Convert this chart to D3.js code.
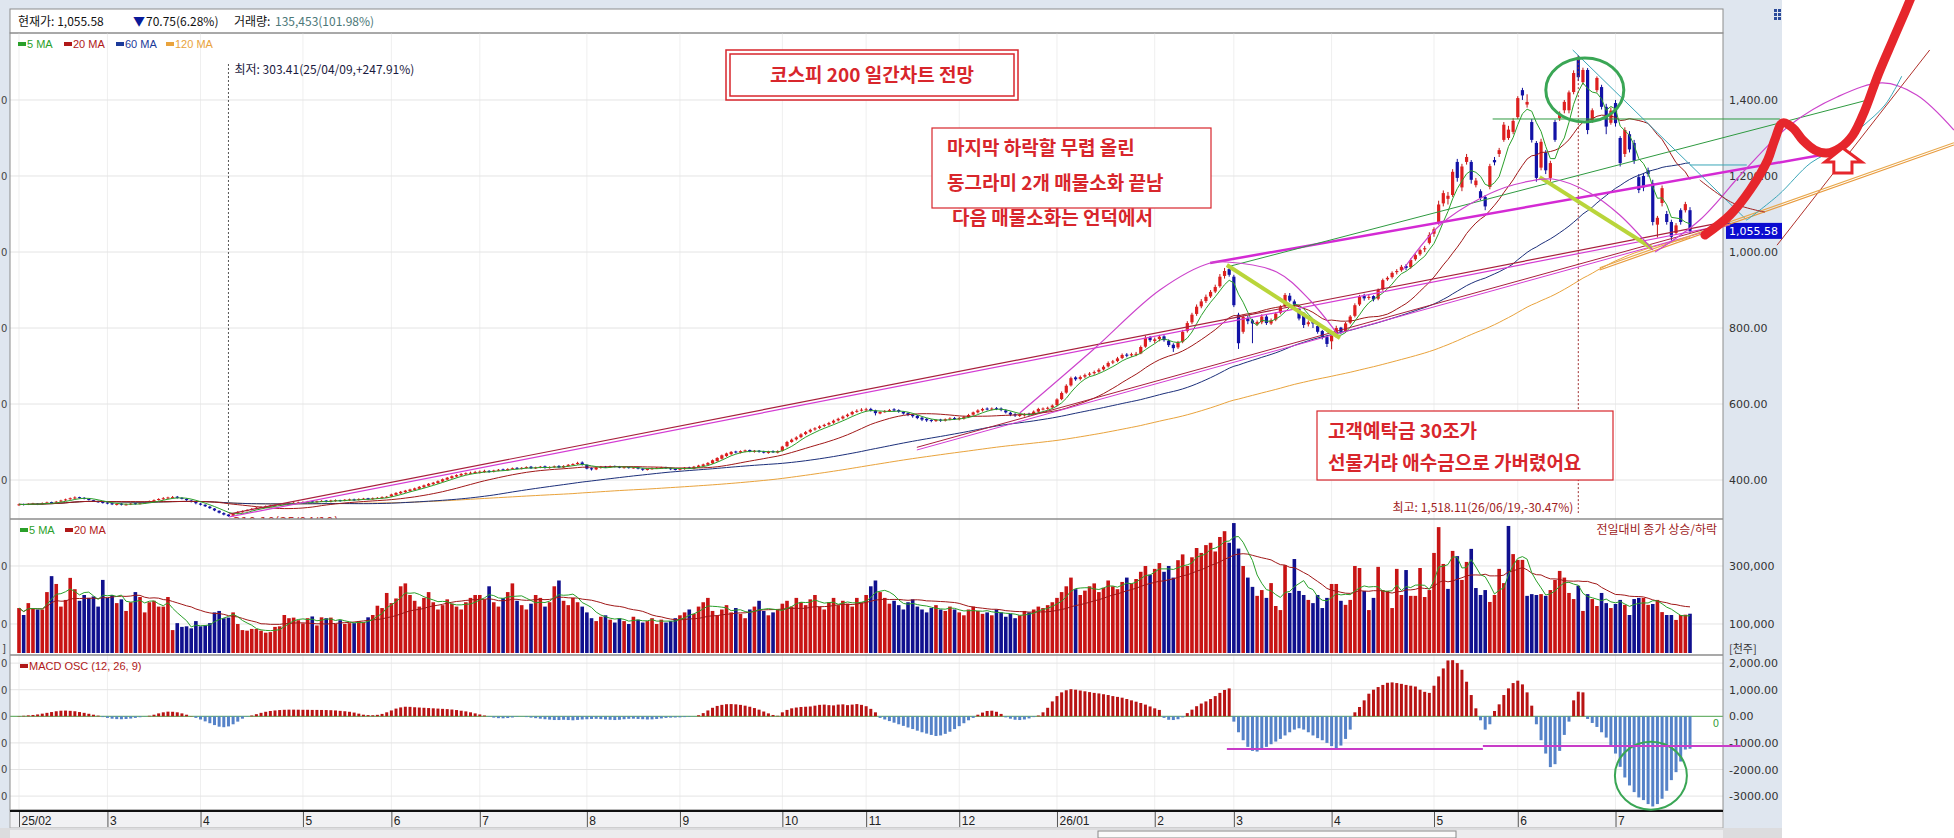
<!DOCTYPE html>
<html>
<head>
<meta charset="utf-8">
<script src="https://cdn.jsdelivr.net/npm/d3@7"></script>
<style>
  body { margin: 0; background: #fff; }
  svg { display: block; font-family: "DejaVu Sans", sans-serif; }
  .kr { font-family: "Noto Sans CJK KR", sans-serif; }
  .ax text { font-family: "DejaVu Sans", sans-serif; font-size: 11px; fill: #333; }
</style>
</head>
<body>
<div id="chart"></div>
<script>
// ---------- data ----------
var monthLabels = ["25/02","3","4","5","6","7","8","9","10","11","12","26/01","2","3","4","5","6","7"];
var monthStarts = [0,19,39,61,80,99,122,142,164,182,202,223,244,261,282,304,322,343];

var closes = [
  336,335,337,338,336,339,341,340,343,346,349,352,354,353,351,348,345,342,340,
  338,336,337,335,336,338,337,339,341,344,347,350,352,354,355,353,351,347,343,339,
  335,331,326,320,314,309,305,311,316,318,321,324,327,329,331,333,334,336,337,339,340,341,
  342,343,341,344,345,343,346,347,345,348,349,347,350,351,349,352,353,355,356,
  362,366,369,372,375,378,382,386,390,393,397,402,406,410,413,416,418,419,421,
  422,424,421,425,427,426,429,431,430,432,434,431,433,435,432,434,436,433,437,440,442,445,441,
  430,428,433,435,434,436,435,433,434,432,433,430,427,429,431,432,433,431,429,428,
  430,432,431,435,438,441,445,452,458,465,470,474,473,476,478,475,477,474,472,475,473,476,
  488,500,506,512,520,526,532,536,541,545,550,556,561,567,572,579,582,585,
  586,582,576,579,581,584,583,580,575,571,568,563,559,557,556,558,557,560,562,561,
  563,566,571,578,583,587,586,588,587,584,578,572,570,571,573,572,580,587,588,590,596,
  612,629,648,668,665,671,676,680,684,690,698,708,712,720,729,727,731,732,750,774,768,
  770,777,768,755,747,762,790,813,835,856,870,882,895,908,935,950,940,
  860,760,829,818,812,816,830,813,820,838,855,887,872,862,825,808,815,812,790,777,758,
  780,800,790,812,830,860,882,878,882,875,900,926,932,945,950,961,958,979,992,1005,1010,1045,
  1060,1125,1155,1148,1211,1195,1225,1250,1190,1188,1142,1120,1226,1236,1268,1335,1322,1345,
  1405,1412,1395,1295,1195,1290,1215,1234,1295,1362,1395,1420,1471,1460,1479,1321,1373,1458,1382,1330,1372,
  1339,1234,1321,1270,1240,1163,1170,1205,1079,1090,1168,1079,1040,1070,1079,1126,1055.58
];
var opens = [
  334,337,335,337,338,337,339,342,341,344,347,350,352,355,353,350,347,344,342,
  341,339,335,338,335,336,339,337,339,342,345,348,350,352,353,356,353,350,346,342,
  338,335,330,325,319,313,309,306,312,315,319,322,325,328,330,331,333,335,336,338,339,339,
  340,342,344,342,344,346,343,345,347,346,347,349,348,350,352,350,352,353,355,
  357,361,365,368,371,374,377,381,385,389,392,396,401,405,409,412,415,417,418,
  420,421,424,422,425,428,426,429,432,430,432,435,431,433,436,432,434,437,433,437,440,442,446,
  440,431,428,432,435,434,437,435,432,434,432,434,430,427,429,431,432,434,431,429,
  427,429,433,430,434,437,440,444,450,456,463,468,475,472,475,479,474,477,475,471,476,472,
  477,489,500,507,513,521,527,533,537,542,546,551,557,562,568,573,580,583,
  584,587,583,575,580,582,586,584,579,576,572,569,564,561,558,555,559,556,559,563,
  560,562,566,572,578,583,588,586,589,588,583,577,573,569,570,574,573,580,586,588,591,
  597,613,630,649,670,666,672,677,681,685,691,699,709,713,721,730,728,731,733,751,776,
  766,771,778,766,756,749,764,792,815,837,857,871,883,896,910,937,955,
  935,835,790,826,820,810,815,830,812,822,840,857,885,870,850,840,810,816,805,792,776,
  765,782,801,792,814,832,862,884,879,884,877,902,928,934,947,952,963,960,981,994,1007,1024,
  1048,1079,1128,1140,1150,1237,1170,1237,1237,1176,1160,1145,1171,1242,1258,1295,1300,1316,
  1355,1426,1388,1342,1287,1222,1262,1195,1342,1352,1373,1373,1421,1510,1447,1479,1347,1426,1434,1382,1340,
  1392,1300,1258,1310,1287,1197,1200,1215,1181,1072,1129,1100,1079,1050,1110,1110,1110
];
var highs = [
  338,338,339,340,339,341,343,343,345,348,351,354,357,356,355,351,348,346,344,
  343,341,339,340,338,340,341,341,343,346,349,352,355,356,358,358,355,352,348,344,
  340,336,332,326,320,315,310,313,318,320,323,326,329,331,333,335,336,338,339,341,342,343,
  344,345,345,346,347,347,348,349,348,350,351,351,352,353,353,354,355,357,358,
  364,368,371,374,377,380,384,388,392,395,399,404,408,412,415,418,420,422,424,
  425,427,426,427,429,430,431,433,434,434,436,437,435,437,438,436,438,439,439,442,444,448,449,
  441,433,435,437,437,438,438,437,436,435,435,435,431,431,433,434,435,435,433,431,
  432,434,435,437,440,443,447,454,460,467,472,476,477,478,480,480,479,479,477,477,478,478,
  490,503,509,515,523,529,535,539,544,548,553,559,564,570,575,582,586,589,
  590,590,585,581,584,587,589,586,581,578,574,571,566,563,560,560,561,562,565,566,
  566,569,574,580,586,590,591,591,592,591,586,580,576,574,576,577,583,590,591,593,599,
  615,633,652,672,673,675,680,684,688,694,702,712,716,724,733,734,735,737,754,780,779,
  775,782,781,770,760,766,795,818,840,862,876,888,900,914,942,958,965,
  940,840,835,832,824,820,836,834,825,842,860,892,892,875,852,842,820,820,808,795,780,
  792,806,803,816,834,865,887,890,888,886,904,930,936,949,955,966,968,983,996,1009,1016,1052,
  1065,1135,1162,1158,1218,1245,1232,1258,1242,1195,1165,1150,1232,1250,1274,1342,1332,1352,
  1410,1432,1415,1350,1292,1298,1268,1240,1348,1370,1400,1425,1478,1518.11,1485,1484,1378,1462,1440,1390,1380,
  1400,1305,1328,1318,1295,1205,1208,1222,1190,1095,1175,1108,1085,1076,1115,1132,1118
];
var lows = [
  332,333,334,335,334,335,337,338,339,342,345,348,350,351,349,346,343,340,338,
  336,334,333,333,333,334,335,336,337,340,343,346,348,350,351,351,349,345,341,336,
  333,329,324,318,312,307,303.41,304,310,314,317,320,323,326,328,330,331,333,335,336,337,338,
  338,340,339,340,342,341,341,343,343,344,345,345,346,348,347,348,350,351,353,
  355,359,363,366,369,372,375,379,383,387,390,394,399,403,407,410,413,415,416,
  417,419,419,420,423,424,424,427,428,428,430,429,429,431,430,430,432,431,431,435,438,440,438,
  428,425,426,430,432,432,433,431,430,430,430,428,424,425,427,429,430,429,426,425,
  425,427,429,428,432,435,438,442,448,454,461,466,470,470,473,473,472,472,470,469,471,470,
  475,486,498,504,510,518,524,530,534,539,543,548,554,559,565,570,577,580,
  580,580,570,573,577,579,580,577,572,568,564,560,555,553,552,553,553,554,557,558,
  557,559,563,569,575,580,583,583,584,581,575,568,566,566,567,569,571,577,583,585,588,
  594,610,627,646,661,662,668,673,677,682,688,696,705,710,718,723,724,726,731,748,763,
  760,765,764,750,737,745,760,788,810,832,852,866,879,892,906,930,935,
  855,745,785,810,760,806,810,808,808,818,836,854,868,855,820,800,804,800,785,770,750,
  744,775,784,788,810,828,858,872,874,870,873,898,924,930,941,948,952,956,977,990,1000,1020,
  1040,1072,1120,1125,1145,1185,1160,1230,1180,1170,1136,1110,1165,1228,1250,1290,1295,1310,
  1350,1400,1380,1288,1185,1215,1205,1185,1290,1345,1365,1365,1415,1450,1440,1310,1340,1420,1375,1310,1335,
  1330,1225,1250,1262,1232,1155,1160,1198,1070,1038,1120,1072,1030,1045,1072,1104,1050
];
// volume in 천주 (thousand shares)
var volumes = [
  155,131,172,155,150,150,210,265,238,160,183,259,220,180,200,190,195,160,252,190,
  200,172,185,145,175,210,193,140,175,180,160,160,193,79,103,90,92,85,110,92,
  95,103,140,145,120,122,140,100,79,77,83,83,77,70,72,90,92,131,120,122,
  113,102,120,126,95,123,120,122,100,113,100,103,103,110,106,123,131,163,155,207,172,
  188,230,240,200,180,160,190,210,175,150,165,185,170,160,150,175,190,200,
  200,185,230,175,160,190,210,240,180,165,150,170,200,190,160,175,230,250,180,165,190,175,160,
  140,120,110,125,130,115,105,120,110,100,125,115,105,110,120,100,115,105,110,120,
  130,140,150,135,160,175,190,145,130,150,165,140,155,135,120,150,160,180,145,130,140,150,
  170,180,160,190,175,165,185,200,160,150,175,190,165,180,170,160,190,175,
  200,230,250,210,190,170,180,165,150,175,185,160,150,140,155,165,150,145,160,150,
  140,130,150,160,145,135,140,130,150,140,125,135,120,130,145,140,150,160,155,165,175,
  190,210,230,260,220,200,215,230,240,210,225,250,230,220,245,260,240,255,280,300,270,
  290,310,280,300,260,320,340,300,330,362,345,372,380,350,400,420,380,448,360,300,260,
  228,197,217,190,241,162,148,303,207,324,214,200,183,172,200,155,190,238,238,180,
  166,183,300,293,214,148,190,297,217,214,155,290,200,286,197,197,293,193,217,345,
  434,307,221,352,334,252,314,359,224,200,217,176,200,290,241,438,341,321,321,197,
  203,200,203,197,217,252,283,260,207,186,232,145,203,186,162,207,172,155,169,183,
  166,131,186,190,190,166,169,183,141,131,131,114,131,132,135.453
];
var macdOsc = [
  10,20,35,50,
  70,100,130,160,190,210,215,205,190,160,130,95,60,25,
  -30,-60,-90,-105,-110,-100,-85,-60,-35,-10,
  20,
  60,110,150,175,170,150,110,60,
  10,
  -60,-120,-190,-260,-330,-390,-410,-380,-300,-200,-90,
  -20,30,80,
  130,170,200,220,235,245,250,250,248,245,245,240,240,238,235,230,220,205,190,170,140,100,
  60,45,40,55,
  90,150,220,290,335,360,355,340,330,320,310,300,290,280,270,255,235,210,185,150,110,70,30,
  -20,-50,-70,-75,-65,-45,-20,
  -10,-30,-50,-70,
  -90,-110,-125,-140,-140,-130,-140,-150,-135,-120,-110,-100,-95,-105,-120,-130,-140,-130,-110,-95,
  -90,-100,-110,-120,-115,-100,-80,-60,-50,-45,-40,-30,-20,-10,
  40,120,220,320,390,430,455,460,450,430,400,360,310,250,180,110,50,
  20,
  150,240,300,330,350,360,370,400,430,440,420,410,440,450,420,440,460,430,380,280,150,
  -60,-120,-180,-240,-300,-360,-420,-480,-540,-600,-650,-700,-740,-720,-660,-580,-480,-370,-260,-150,-60,
  60,140,200,210,170,90,
  -40,-90,-130,-140,-120,-80,-30,
  30,
  150,320,560,760,900,980,1020,1000,970,940,910,880,860,830,800,760,730,700,650,600,550,500,440,370,300,240,
  -60,-130,-140,-110,-40,
  120,250,380,480,560,650,760,880,990,1050,
  -200,-600,-900,-1150,-1300,-1325,-1250,-1150,-1050,-950,-850,-720,-600,-500,-450,-500,-600,-720,-820,-900,-1000,-1120,-1240,-1100,-850,-500,
  150,350,600,850,1000,1100,1180,1260,1275,1250,1220,1180,1150,1120,1000,920,880,1150,1500,1800,2100,2110,2000,1750,1300,800,300,
  -150,-500,-300,
  200,
  450,800,1050,1250,1340,1200,900,400,
  -300,-900,-1400,-1910,-1800,-1300,-700,-200,
  600,925,900,
  -100,-250,-400,-600,-800,-1100,-1400,-1900,-2300,-2600,-2850,-3050,-3150,-3300,-3390,-3300,-3100,-2800,-2400,-2100,-1700,-1250,-1220
];

var priceTicks = [400, 600, 800, 1000, 1200, 1400];
var volTicks = [100, 300];
var macdTicks = [2000, 1000, 0, -1000, -2000, -3000];
var macdTickLabels = ["2,000.00", "1,000.00", "0.00", "-1000.00", "-2000.00", "-3000.00"];

// hand drawn marks, in [bar index, price] (or [bar index, macd])
var hillCurves = [
  [[215.0,576.3],[230.7,742.1],[245.1,900],[255.9,971],[259.5,973.7],[270.2,947.4],[277.3,873.7],[283.1,786.8]],
  [[297.3,952.6],[305.3,1071.1],[314.5,1144.8],[321.0,1176.4],[329.5,1192.1],[337.5,1155.3],[343.9,1097.4],[351.0,1005.3]],
  [[351.5,1000],[361.1,1084.2],[370.8,1215.8],[380.5,1334.2],[390.6,1407.9],[400.4,1444.8],[407.7,1413.2],[415.7,1321.1]]
];
var trendLines = [
  { p: [[45.1,310.6],[367.6,1081.7]], c: "#a8203c", w: 1.2 },
  { p: [[45.1,302.7],[367.6,1073.7]], c: "#d43cd4", w: 1.2 },
  { p: [[192.9,486],[367.6,1078]], c: "#a8203c", w: 1 },
  { p: [[192.9,479],[367.6,1071.1]], c: "#d43cd4", w: 1 },
  { p: [[255.9,971],[390.8,1263]], c: "#d42ad4", w: 2.5 },
  { p: [[259.5,960.5],[398,1402.6]], c: "#2e9a40", w: 1 },
  { p: [[316.6,1350],[378.3,1350]], c: "#2e9a40", w: 1 },
  { p: [[259.5,965.8],[283.8,773.7]], c: "#b9d53a", w: 4 },
  { p: [[326.7,1197],[350.8,1010.5]], c: "#b9d53a", w: 4 },
  { p: [[333.8,1531.6],[371.2,1084]], c: "#3aa6b8", w: 1 },
  { p: [[359,1229],[371.2,1229]], c: "#3aa6b8", w: 1 },
  { p: [[377.7,1018],[410.5,1531.6]], c: "#b0302a", w: 1 },
  { p: [[339.6,952.6],[415.7,1281.6]], c: "#e89a3c", w: 1.2 },
  { p: [[339.6,958.6],[415.7,1287.6]], c: "#e8a84c", w: 1.2 }
];
var tealCurve = [[371.2,1084],[378,1150],[385,1235],[391,1275],[396,1330],[400.9,1387],[404.5,1463]];
var redCurve20 = [[361.1,1189.5],[368.2,1129],[375.1,1105]];
var forecast = [[362.2,1044.8],[367.6,1097.4],[371.9,1163.2],[375.7,1242.1],[377.2,1294.8],[378.9,1339.5],
  [381.1,1326.4],[383.2,1294.8],[385.8,1268.5],[388.4,1260.6],[391.2,1273.7],[394.0,1307.9],[396.6,1373.7],
  [399.4,1465.8],[402.6,1557.9],[405.2,1631.6],[406.7,1676]];
var upArrow = [[391.8,1273.7],[395.9,1236.8],[393.8,1236.8],[393.8,1208.1],[389.9,1208.1],[389.9,1236.8],[388.0,1236.8]];
var macdLines = [[[259.5,-1230],[314.5,-1230]], [[314.5,-1117],[369.9,-1117]]];

// ---------- layout ----------
var W = 1954, H = 838;
var left = 10, right = 1723, axisRight = 1782;
var mainTop = 33, mainBot = 519, volBot = 655, macdBot = 810, dateBot = 828;

var svg = d3.select("#chart").append("svg").attr("width", W).attr("height", H);

var x = d3.scaleLinear().domain([0, 359]).range([19, 1690]);
var yPrice = d3.scaleLinear().domain([297.4, 1576.3]).range([mainBot, mainTop]);
var yVol = d3.scaleLinear().domain([0, 462]).range([653, mainBot]);
var yMacd = d3.scaleLinear().domain([-3523, 2305]).range([macdBot, volBot]);

function movingAvg(arr, n) {
  return arr.map(function(d, i) {
    return d3.mean(arr.slice(Math.max(0, i - n + 1), i + 1));
  });
}

// backgrounds
svg.append("rect").attr("width", W).attr("height", H).attr("fill", "#fff");
svg.append("rect").attr("x", 0).attr("y", 0).attr("width", axisRight).attr("height", 9).attr("fill", "#dfe6ef");
svg.append("rect").attr("x", 0).attr("y", 0).attr("width", left).attr("height", H).attr("fill", "#dfe6ef");
svg.append("rect").attr("x", right).attr("y", 0).attr("width", axisRight - right).attr("height", H).attr("fill", "#dfe6ef");
svg.append("rect").attr("x", left).attr("y", 9).attr("width", right - left).attr("height", mainTop - 9)
  .attr("fill", "#fff").attr("stroke", "#8c8c8c");

// clip for plot area
svg.append("clipPath").attr("id", "clipMain").append("rect")
  .attr("x", left).attr("y", mainTop).attr("width", right - left).attr("height", mainBot - mainTop);
svg.append("clipPath").attr("id", "clipVol").append("rect")
  .attr("x", left).attr("y", mainBot).attr("width", right - left).attr("height", volBot - mainBot);
svg.append("clipPath").attr("id", "clipMacd").append("rect")
  .attr("x", left).attr("y", volBot).attr("width", right - left).attr("height", macdBot - volBot);

// grids
var grid = svg.append("g");
grid.selectAll(".vg").data(monthStarts).enter().append("line")
  .attr("x1", function(d) { return x(d); }).attr("x2", function(d) { return x(d); })
  .attr("y1", mainTop).attr("y2", macdBot).attr("stroke", "#efefef");
grid.selectAll(".pg").data(priceTicks).enter().append("line")
  .attr("x1", left).attr("x2", right).attr("y1", function(d) { return yPrice(d); })
  .attr("y2", function(d) { return yPrice(d); }).attr("stroke", "#e4e4e4");
grid.selectAll(".vog").data(volTicks).enter().append("line")
  .attr("x1", left).attr("x2", right).attr("y1", function(d) { return yVol(d); })
  .attr("y2", function(d) { return yVol(d); }).attr("stroke", "#e4e4e4");
grid.selectAll(".mg").data(macdTicks.filter(function(d) { return d !== 0; })).enter().append("line")
  .attr("x1", left).attr("x2", right).attr("y1", function(d) { return yMacd(d); })
  .attr("y2", function(d) { return yMacd(d); }).attr("stroke", "#e4e4e4");

// ---------- price panel ----------
var bars = d3.range(closes.length);
var main = svg.append("g").attr("clip-path", "url(#clipMain)");

main.selectAll(".wick").data(bars).enter().append("line")
  .attr("x1", function(i) { return x(i); }).attr("x2", function(i) { return x(i); })
  .attr("y1", function(i) { return yPrice(highs[i]); }).attr("y2", function(i) { return yPrice(lows[i]); })
  .attr("stroke", function(i) { return closes[i] >= opens[i] ? "#c01818" : "#10109a"; })
  .attr("stroke-width", 1);
main.selectAll(".body").data(bars).enter().append("rect")
  .attr("x", function(i) { return x(i) - 1.6; }).attr("width", 3.2)
  .attr("y", function(i) { return yPrice(Math.max(opens[i], closes[i])); })
  .attr("height", function(i) { return Math.max(1, Math.abs(yPrice(opens[i]) - yPrice(closes[i]))); })
  .attr("fill", function(i) { return closes[i] >= opens[i] ? "#de1f1f" : "#1212a6"; });

var maDefs = [
  { n: 120, c: "#e9a33c" }, { n: 60, c: "#1c2f7a" }, { n: 20, c: "#a01818" }, { n: 5, c: "#2aa02a" }
];
maDefs.forEach(function(m) {
  var ma = movingAvg(closes, m.n);
  main.append("path").datum(ma)
    .attr("d", d3.line().x(function(d, i) { return x(i); }).y(function(d) { return yPrice(d); }))
    .attr("fill", "none").attr("stroke", m.c).attr("stroke-width", 1);
});

// min / max markers
main.append("line").attr("x1", x(45)).attr("x2", x(45)).attr("y1", 64).attr("y2", 513)
  .attr("stroke", "#555").attr("stroke-dasharray", "2,2");
main.append("line").attr("x1", x(335)).attr("x2", x(335)).attr("y1", yPrice(1518.11)).attr("y2", 513)
  .attr("stroke", "#a03030").attr("stroke-dasharray", "2,2");
main.append("text").attr("class", "kr").attr("x", x(45) + 6).attr("y", 74)
  .attr("font-size", 12).attr("fill", "#1a1a40").text("최저: 303.41(25/04/09,+247.91%)");
main.append("text").attr("class", "kr").attr("x", x(335) - 5).attr("y", 512).attr("text-anchor", "end")
  .attr("font-size", 12).attr("fill", "#a01c1c").text("최고: 1,518.11(26/06/19,-30.47%)");
main.append("text").attr("x", x(46)).attr("y", 526)
  .attr("font-size", 12).attr("fill", "#c03030").text("310.10(25/04/10)");

// ---------- volume panel ----------
var vol = svg.append("g").attr("clip-path", "url(#clipVol)");
vol.selectAll(".vb").data(bars).enter().append("rect")
  .attr("x", function(i) { return x(i) - 1.8; }).attr("width", 3.6)
  .attr("y", function(i) { return yVol(volumes[i]); })
  .attr("height", function(i) { return yVol(0) - yVol(volumes[i]); })
  .attr("fill", function(i) {
    if (i === 0) return "#c81414";
    if (closes[i] === closes[i - 1]) return "#3aa03a";
    return closes[i] > closes[i - 1] ? "#c81414" : "#10108e";
  });
[{ n: 20, c: "#a01818" }, { n: 5, c: "#2aa02a" }].forEach(function(m) {
  vol.append("path").datum(movingAvg(volumes, m.n))
    .attr("d", d3.line().x(function(d, i) { return x(i); }).y(function(d) { return yVol(d); }))
    .attr("fill", "none").attr("stroke", m.c).attr("stroke-width", 1);
});

// ---------- macd panel ----------
var mac = svg.append("g").attr("clip-path", "url(#clipMacd)");
mac.append("line").attr("x1", left).attr("x2", right).attr("y1", yMacd(0)).attr("y2", yMacd(0))
  .attr("stroke", "#4aa04a").attr("stroke-width", 1);
mac.selectAll(".mb").data(bars).enter().append("rect")
  .attr("x", function(i) { return x(i) - 1.5; }).attr("width", 3)
  .attr("y", function(i) { return yMacd(Math.max(0, macdOsc[i])); })
  .attr("height", function(i) { return Math.abs(yMacd(macdOsc[i]) - yMacd(0)); })
  .attr("fill", function(i) { return macdOsc[i] >= 0 ? "#b81414" : "#5582c8"; });
svg.append("text").attr("x", 1719).attr("y", 727).attr("text-anchor", "end")
  .attr("font-size", 10).attr("fill", "#3aa03a").text("0");

// ---------- frames ----------
svg.append("rect").attr("x", left).attr("y", mainTop).attr("width", right - left).attr("height", macdBot - mainTop)
  .attr("fill", "none").attr("stroke", "#8c8c8c");
[mainBot, volBot].forEach(function(y) {
  svg.append("line").attr("x1", left).attr("x2", right).attr("y1", y).attr("y2", y)
    .attr("stroke", "#8c8c8c").attr("stroke-width", 1.5);
});

// date bar
svg.append("rect").attr("x", left).attr("y", macdBot).attr("width", right - left).attr("height", dateBot - macdBot)
  .attr("fill", "#f1f1f3").attr("stroke", "#aaa");
svg.append("line").attr("x1", left).attr("x2", right).attr("y1", macdBot + 1).attr("y2", macdBot + 1)
  .attr("stroke", "#111").attr("stroke-width", 2);
var xAxis = d3.axisBottom(x).tickValues(monthStarts).tickSize(dateBot - macdBot - 3)
  .tickFormat(function(d, i) { return monthLabels[i]; });
var gx = svg.append("g").attr("class", "ax").attr("transform", "translate(0," + (macdBot + 2) + ")").call(xAxis);
gx.select(".domain").remove();
gx.selectAll("line").attr("stroke", "#555");
gx.selectAll("text").attr("x", 2).attr("y", 4).attr("dy", "0.71em").attr("text-anchor", "start")
  .style("font-family", "'Liberation Sans', sans-serif").style("font-size", "12px").style("fill", "#222");

// bottom strip with scroll bar
svg.append("rect").attr("x", 0).attr("y", dateBot).attr("width", axisRight).attr("height", H - dateBot).attr("fill", "#dcdcde");
svg.append("rect").attr("x", left).attr("y", dateBot + 2).attr("width", right - left).attr("height", 8).attr("fill", "#ececee");
svg.append("rect").attr("x", 1098).attr("y", dateBot + 3).attr("width", 358).attr("height", 7)
  .attr("fill", "#fafafa").attr("stroke", "#888");

// ---------- right axes ----------
var gp = svg.append("g").attr("class", "ax").attr("transform", "translate(" + right + ",0)")
  .call(d3.axisRight(yPrice).tickValues(priceTicks).tickSize(0).tickPadding(6).tickFormat(d3.format(",.2f")));
gp.select(".domain").remove();
var gv = svg.append("g").attr("class", "ax").attr("transform", "translate(" + right + ",0)")
  .call(d3.axisRight(yVol).tickValues(volTicks).tickSize(0).tickPadding(6)
    .tickFormat(function(d) { return d3.format(",")(d * 1000); }));
gv.select(".domain").remove();
var gm = svg.append("g").attr("class", "ax").attr("transform", "translate(" + right + ",0)")
  .call(d3.axisRight(yMacd).tickValues(macdTicks).tickSize(0).tickPadding(6)
    .tickFormat(function(d, i) { return macdTickLabels[i]; }));
gm.select(".domain").remove();
svg.append("text").attr("class", "kr").attr("x", right + 6).attr("y", 653)
  .attr("font-size", 11).attr("fill", "#333").text("[천주]");

// what shows of the left axis labels in the narrow left strip
var leftTailY = priceTicks.map(function(d) { return yPrice(d); })
  .concat(volTicks.map(function(d) { return yVol(d); }))
  .concat(macdTicks.map(function(d) { return yMacd(d); }));
svg.append("g").selectAll("text").data(leftTailY).enter().append("text")
  .attr("x", 1).attr("y", function(d) { return d + 4; })
  .attr("font-size", 10).attr("fill", "#444").text("0");
svg.append("text").attr("x", 2).attr("y", 652).attr("font-size", 10).attr("fill", "#444").text("]");

// current price tag
var lastClose = closes[closes.length - 1];
svg.append("rect").attr("x", right + 3).attr("y", yPrice(lastClose) - 8).attr("width", 56).attr("height", 16)
  .attr("fill", "#0b0bd0");
svg.append("text").attr("x", right + 6).attr("y", yPrice(lastClose) + 4).attr("font-size", 11)
  .attr("fill", "#fff").text(d3.format(",.2f")(lastClose));

// top right icon
[0, 1, 2].forEach(function(r) {
  [0, 1].forEach(function(c) {
    svg.append("rect").attr("x", 1774 + c * 4).attr("y", 9 + r * 4).attr("width", 3).attr("height", 3).attr("fill", "#2a4a9a");
  });
});

// ---------- header & legends ----------
var hdr = svg.append("g").attr("class", "kr").attr("font-size", 12);
hdr.append("text").attr("x", 18).attr("y", 26).attr("fill", "#111").text("현재가: 1,055.58");
hdr.append("text").attr("x", 133).attr("y", 26).attr("fill", "#0a1a9a").text("▼");
hdr.append("text").attr("x", 146).attr("y", 26).attr("fill", "#111").text("70.75(6.28%)");
hdr.append("text").attr("x", 234).attr("y", 26).attr("fill", "#111").text("거래량:");
hdr.append("text").attr("x", 275).attr("y", 26).attr("fill", "#4c7878").text("135,453(101.98%)");

function legend(items, y) {
  var g = svg.append("g").attr("font-size", 11).style("font-family", "'Liberation Sans', sans-serif");
  items.forEach(function(it) {
    g.append("rect").attr("x", it.x).attr("y", y - 2).attr("width", 8).attr("height", 4).attr("fill", it.c);
    g.append("text").attr("x", it.x + 9).attr("y", y + 4).attr("fill", it.c).text(it.t);
  });
}
legend([{ x: 18, c: "#2aa02a", t: "5 MA" }, { x: 64, c: "#b01818", t: "20 MA" },
        { x: 116, c: "#1c3a9a", t: "60 MA" }, { x: 166, c: "#e9a33c", t: "120 MA" }], 44);
legend([{ x: 20, c: "#2aa02a", t: "5 MA" }, { x: 65, c: "#b01818", t: "20 MA" }], 530);
legend([{ x: 20, c: "#b01818", t: "MACD OSC (12, 26, 9)" }], 666);
svg.append("text").attr("class", "kr").attr("x", 1717).attr("y", 534).attr("text-anchor", "end")
  .attr("font-size", 12).attr("fill", "#a01c1c").text("전일대비 종가 상승/하락");

// ---------- hand drawn annotations ----------
var ann = svg.append("g");
var pline = d3.line().x(function(d) { return x(d[0]); }).y(function(d) { return yPrice(d[1]); });
var pcurve = d3.line().curve(d3.curveCatmullRom).x(function(d) { return x(d[0]); }).y(function(d) { return yPrice(d[1]); });

trendLines.forEach(function(t) {
  ann.append("path").attr("d", pline(t.p)).attr("fill", "none").attr("stroke", t.c).attr("stroke-width", t.w);
});
hillCurves.forEach(function(c) {
  ann.append("path").attr("d", pcurve(c)).attr("fill", "none").attr("stroke", "#cc44cc").attr("stroke-width", 1.2);
});
ann.append("path").attr("d", pcurve(tealCurve)).attr("fill", "none").attr("stroke", "#3aa6b8").attr("stroke-width", 1);
ann.append("path").attr("d", pcurve(redCurve20)).attr("fill", "none").attr("stroke", "#a02020").attr("stroke-width", 1);
ann.append("path").attr("d", pcurve(forecast)).attr("fill", "none").attr("stroke", "#e6262c")
  .attr("stroke-width", 9).attr("stroke-linecap", "round").attr("stroke-linejoin", "round");
ann.append("path").attr("d", pline(upArrow) + "Z").attr("fill", "#fff").attr("stroke", "#e6262c").attr("stroke-width", 3);

ann.append("ellipse").attr("cx", x(336.4)).attr("cy", yPrice(1426.4)).attr("rx", 39).attr("ry", 32)
  .attr("fill", "none").attr("stroke", "#3aa655").attr("stroke-width", 3);
ann.append("ellipse").attr("cx", x(350.6)).attr("cy", yMacd(-2237)).attr("rx", 36).attr("ry", 34)
  .attr("fill", "none").attr("stroke", "#3aa655").attr("stroke-width", 2);
macdLines.forEach(function(l) {
  ann.append("path").attr("d", d3.line().x(function(d) { return x(d[0]); }).y(function(d) { return yMacd(d[1]); })(l))
    .attr("fill", "none").attr("stroke", "#c83cc8").attr("stroke-width", 2);
});

// text boxes
var red = "#d8262c";
var tb = svg.append("g").attr("class", "kr").attr("font-weight", "bold").attr("fill", red);
tb.append("rect").attr("x", 726).attr("y", 50).attr("width", 292).attr("height", 50)
  .attr("fill", "#fff").attr("stroke", red).attr("stroke-width", 1.5);
tb.append("rect").attr("x", 730).attr("y", 54).attr("width", 284).attr("height", 42)
  .attr("fill", "none").attr("stroke", red).attr("stroke-width", 1.5);
tb.append("text").attr("x", 872).attr("y", 82).attr("text-anchor", "middle").attr("font-size", 19).text("코스피 200 일간차트 전망");

tb.append("rect").attr("x", 932).attr("y", 128).attr("width", 279).attr("height", 80)
  .attr("fill", "#fff").attr("stroke", red).attr("stroke-width", 1.2);
tb.append("text").attr("x", 947).attr("y", 155).attr("font-size", 19).text("마지막 하락할 무렵 올린");
tb.append("text").attr("x", 947).attr("y", 190).attr("font-size", 19).text("동그라미 2개 매물소화 끝남");
tb.append("text").attr("x", 952).attr("y", 225).attr("font-size", 19).text("다음 매물소화는 언덕에서");

tb.append("rect").attr("x", 1317).attr("y", 411).attr("width", 296).attr("height", 69)
  .attr("fill", "#fff").attr("stroke", red).attr("stroke-width", 1.2);
tb.append("text").attr("x", 1328).attr("y", 438).attr("font-size", 19).text("고객예탁금 30조가");
tb.append("text").attr("x", 1328).attr("y", 470).attr("font-size", 19).text("선물거랴 애수금으로 가버렸어요");
</script>
</body>
</html>
